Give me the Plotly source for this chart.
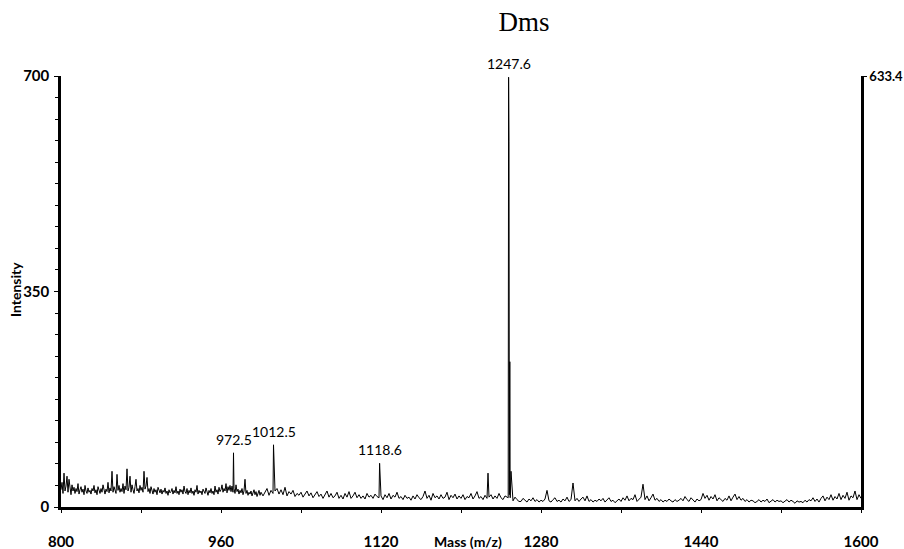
import plotly.graph_objects as go

# ---- data ----
# 800-1000, step 1
noise_a_start = 800
noise_a = [
    28, 40, 22, 55, 26, 34, 50, 24, 45, 30,
    20, 36, 26, 32, 22, 30, 25, 38, 21, 28,
    33, 24, 29, 20, 35, 26, 22, 31, 24, 27,
    21, 30, 26, 35, 23, 28, 20, 33, 25, 22,
    30, 24, 36, 27, 21, 29, 25, 40, 23, 31,
    26, 58, 24, 33, 28, 22, 53, 27, 35, 24,
    30, 25, 38, 22, 34, 28, 62, 26, 32, 50,
    24, 36, 28, 22, 33, 45, 26, 30, 23, 35,
    27, 32, 24, 58, 29, 34, 48, 25, 30, 22,
    33, 26, 21, 30, 24, 28, 20, 32, 25, 23,
    29, 21, 27, 24, 31, 22, 26, 19, 28, 23,
    25, 30, 21, 27, 23, 33, 22, 26, 20, 29,
    24, 28, 21, 34, 25, 22, 30, 20, 27, 23,
    31, 22, 26, 19, 28, 24, 35, 21, 27, 23,
    26, 20, 29, 24, 22, 31, 25, 19, 27, 23,
    30, 22, 26, 20, 34, 24, 28, 21, 32, 25,
    28, 36, 24, 30, 26, 38, 23, 33, 27, 35,
    25, 34, 24, 30, 22, 36, 25, 29, 21, 27,
    23, 30, 20, 26, 45, 22, 27, 19, 24, 21,
    26, 18, 23, 28, 20, 25, 17, 22, 27, 19,
    24,
]
# 1002-1600, step 2
noise_b_start = 1002
noise_b = [
    18, 23, 30, 19, 27, 22, 26, 30, 21,
    28, 20, 32, 18, 25, 21, 27, 17, 22, 19,
    24, 16, 21, 26, 18, 23, 15, 20, 25, 17,
    21, 14, 19, 26, 16, 22, 15, 18, 24, 14,
    19, 13, 22, 16, 25, 14, 18, 24, 15, 20,
    14, 18, 13, 22, 16, 19, 14, 21, 17, 15,
    18, 12, 20, 15, 22, 13, 19, 16, 24, 14,
    17, 12, 19, 14, 16, 11, 18, 13, 20, 15,
    12, 17, 26, 14, 19, 11, 22, 15, 18, 13,
    20, 14, 16, 24, 12, 19, 15, 21, 13, 18,
    14, 20, 12, 17, 15, 22, 13, 18, 25, 14,
    17, 12, 19, 14, 16, 20, 13, 18, 14, 22,
    15, 12, 18, 14, 10, 14, 10, 16, 12, 9,
    9, 14, 11, 8, 13, 10, 15, 9, 12, 8,
    11, 9, 13, 27, 10, 8, 12, 15, 9, 11,
    8, 13, 10, 16, 9, 12, 39, 10, 14, 9,
    13, 16, 10, 18, 9, 12, 8, 11, 9, 13,
    10, 14, 8, 12, 15, 9, 11, 7, 10, 13,
    9, 15, 11, 18, 10, 14, 12, 20, 9, 13,
    16, 37, 12, 18, 10, 15, 21, 11, 14, 9,
    12, 8, 11, 9, 13, 10, 8, 12, 9, 11,
    14, 10, 17, 12, 9, 15, 11, 8, 13, 10,
    12, 22, 14, 19, 11, 17, 13, 20, 10, 15,
    12, 9, 14, 11, 18, 10, 16, 21, 12, 17,
    11, 14, 9, 12, 8, 11, 10, 7, 9, 12,
    8, 11, 9, 13, 7, 10, 12, 8, 11, 9,
    10, 7, 9, 12, 8, 11, 9, 6, 10, 8,
    9, 7, 11, 8, 12, 10, 15, 9, 13, 8,
    14, 18, 10, 16, 12, 20, 11, 17, 13, 22,
    12, 19, 14, 24, 11, 18, 15, 26, 12, 20,
    14,
]
peak_mz = [972.5, 1012.5, 1118.6, 1227.0, 1247.2, 1247.6, 1248.0, 1248.4, 1248.8, 1249.2, 1250.0]
peak_int = [88, 101, 71, 55, 15, 698, 593, 20, 236, 15, 58]

label_mz = [972.5, 1012.5, 1118.6, 1247.6]
label_int = [88, 101, 71, 698]
label_text = ["972.5", "1012.5", "1118.6", "1247.6"]

x_ticks = [800, 960, 1120, 1280, 1440, 1600]
y_ticks = [0, 350, 700]
right_max = 633.4
title_text = "Dms"
x_title = "Mass (m/z)"
y_title = "Intensity"

# ---- build spectrum ----
pts = [(noise_a_start + i, v) for i, v in enumerate(noise_a)]
pts += [(noise_b_start + 2 * i, v) for i, v in enumerate(noise_b)]
pts = [p for p in pts if not (1246 <= p[0] <= 1250)]
pts += list(zip(peak_mz, peak_int))
pts.sort(key=lambda p: p[0])
mz = [p[0] for p in pts]
inten = [p[1] for p in pts]

FAM = "Lato, Open Sans, Liberation Sans, sans-serif"
tick_font = dict(family=FAM, size=15, color="black", weight="bold")
label_font = dict(family=FAM, size=14, color="black")

fig = go.Figure()
fig.add_trace(go.Scatter(x=mz, y=inten, mode="lines",
                         line=dict(color="black", width=1),
                         showlegend=False, hoverinfo="skip"))
fig.add_trace(go.Scatter(x=[None], y=[None], yaxis="y2", mode="lines",
                         showlegend=False, hoverinfo="skip"))

for m, v, t in zip(label_mz, label_int, label_text):
    fig.add_annotation(x=m, y=v, text=t, showarrow=False, xanchor="center",
                       yanchor="bottom", yshift=3, font=label_font)

fig.add_annotation(xref="paper", yref="paper", x=(468 - 61) / 800, y=0,
                   yshift=-34, text=x_title, showarrow=False,
                   xanchor="center", yanchor="middle",
                   font=dict(family=FAM, size=14, color="black", weight="bold"))
fig.add_annotation(xref="paper", yref="paper", x=(15 - 61) / 800, y=(507 - 290) / 431,
                   text=y_title, showarrow=False, textangle=-90,
                   xanchor="center", yanchor="middle",
                   font=dict(family=FAM, size=14, color="black", weight="bold"))

fig.update_layout(
    width=904, height=549,
    margin=dict(l=61, r=43, t=76, b=42, autoexpand=False),
    paper_bgcolor="white", plot_bgcolor="white",
    title=dict(text=title_text, x=524 / 904, y=1 - 22 / 549,
               xanchor="center", yanchor="middle",
               font=dict(family="Liberation Serif, Times New Roman, serif", size=27, color="black")),
    xaxis=dict(range=[800, 1600], tickvals=x_ticks, ticks="outside", ticklen=3,
               tickwidth=1, tickcolor="black", showgrid=False, zeroline=False,
               showline=True, linecolor="black", linewidth=2.5, automargin=False,
               tickfont=tick_font, ticklabelstandoff=16,
               minor=dict(dtick=80, tick0=800, ticks="outside", ticklen=3,
                          tickcolor="black", showgrid=False)),
    yaxis=dict(range=[0, 700], tickvals=y_ticks, ticks="outside", ticklen=4,
               tickwidth=1, tickcolor="black", showgrid=False, zeroline=False,
               showline=True, linecolor="black", linewidth=2.5, automargin=False,
               tickfont=tick_font, ticklabelstandoff=2,
               minor=dict(dtick=35, tick0=0, ticks="outside", ticklen=3,
                          tickcolor="black", showgrid=False)),
    yaxis2=dict(overlaying="y", side="right", range=[0, right_max],
                tickvals=[right_max], ticktext=[f"{right_max:.1f}"],
                ticks="outside", ticklen=3, tickcolor="black", automargin=False,
                showgrid=False, zeroline=False, showline=True,
                linecolor="black", linewidth=2.5,
                tickfont=dict(family=FAM, size=13, color="black", weight="bold"),
                ticklabelstandoff=0),
)

fig.write_html("out.html")
